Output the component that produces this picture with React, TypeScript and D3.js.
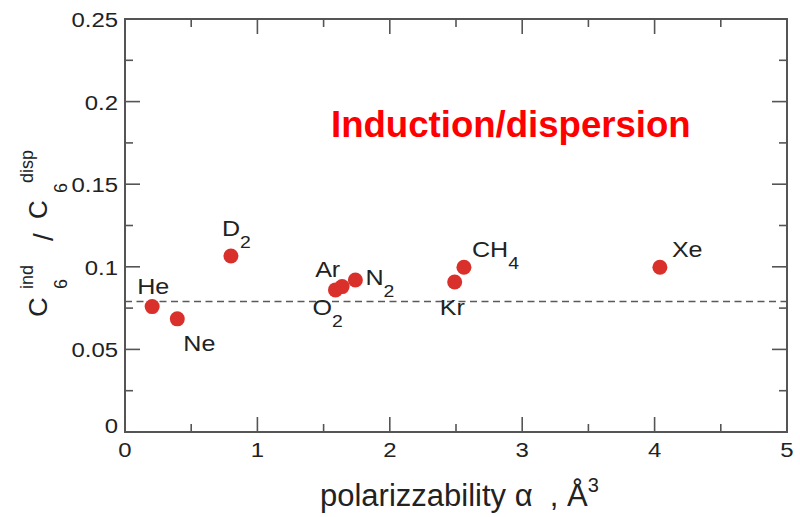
import React from "react";
import * as d3 from "d3";

// Ratio of induction to dispersion C6 coefficients vs. polarizability
const species = ["He", "Ne", "D", "O", "Ar", "N", "Kr", "CH", "Xe"];
const speciesSub = ["", "", "2", "2", "", "2", "", "4", ""];
const polarizability = [0.205, 0.395, 0.8, 1.59, 1.64, 1.74, 2.49, 2.56, 4.04];
const c6Ratio = [0.0759, 0.0685, 0.1065, 0.086, 0.088, 0.092, 0.0908, 0.0997, 0.0997];
const referenceRatio = 0.079;

const xTicks = [0, 1, 2, 3, 4, 5];
const yTicks = [0, 0.05, 0.1, 0.15, 0.2, 0.25];
const xMinor = [0.5, 1.5, 2.5, 3.5, 4.5];
const yMinor = [0.025, 0.075, 0.125, 0.175, 0.225];

// label offsets from each marker (px)
const labelOffset: [number, number][] = [
  [-15, -13], [6, 32], [-9, -20], [-23, 25], [-27, -10], [10, 5], [-15, 33], [8, -10], [12, -10],
];

const W = 800, H = 517;
const left = 125, right = 787, top = 19, bottom = 432;
const SX = 1.14; // horizontal text stretch
const FONT = "'Liberation Sans', Arial, Helvetica, sans-serif";
const INK = "#222";
const AXIS = "#555";
const RED = "#d9302b";

function T(props: {x: number; y: number; size: number; anchor?: string; sx?: number; children: React.ReactNode; fill?: string}) {
  const s = props.sx ?? SX;
  return (
    <text
      transform={`translate(${props.x},${props.y}) scale(${s},1)`}
      fontSize={props.size}
      textAnchor={props.anchor || "start"}
      fill={props.fill || INK}
      fontFamily={FONT}
    >
      {props.children}
    </text>
  );
}

export default function App() {
  const x = d3.scaleLinear().domain([0, 5]).range([left, right]);
  const y = d3.scaleLinear().domain([0, 0.25]).range([bottom, top]);
  const major = 15, minor = 8;

  return (
    <svg width={W} height={H} style={{ position: "absolute", left: 0, top: 0, background: "#fff" }}>
      <rect x={0} y={0} width={W} height={H} fill="#fff" />
      {/* reference line */}
      <line x1={left} x2={right} y1={y(referenceRatio)} y2={y(referenceRatio)} stroke="#5a5a5a" strokeWidth={1.6} strokeDasharray="7,4.5" />

      {/* frame */}
      <rect x={left} y={top} width={right - left} height={bottom - top} fill="none" stroke={AXIS} strokeWidth={2} />

      {/* x ticks bottom & top */}
      {xTicks.map((t) => (
        <g key={"xt" + t}>
          <line x1={x(t)} x2={x(t)} y1={bottom} y2={bottom - major} stroke={AXIS} strokeWidth={1.6} />
          <line x1={x(t)} x2={x(t)} y1={top} y2={top + major} stroke={AXIS} strokeWidth={1.6} />
          <T x={x(t)} y={457} size={21} anchor="middle">{d3.format("")(t)}</T>
        </g>
      ))}
      {xMinor.map((t) => (
        <g key={"xm" + t}>
          <line x1={x(t)} x2={x(t)} y1={bottom} y2={bottom - minor} stroke={AXIS} strokeWidth={1.6} />
          <line x1={x(t)} x2={x(t)} y1={top} y2={top + minor} stroke={AXIS} strokeWidth={1.6} />
        </g>
      ))}

      {/* y ticks left & right */}
      {yTicks.map((t) => (
        <g key={"yt" + t}>
          <line x1={left} x2={left + major} y1={y(t)} y2={y(t)} stroke={AXIS} strokeWidth={1.6} />
          <line x1={right} x2={right - major} y1={y(t)} y2={y(t)} stroke={AXIS} strokeWidth={1.6} />
          <T x={118} y={y(t) + (t === 0 ? 1 : 8)} size={21} anchor="end">{t === 0 ? "0" : String(t)}</T>
        </g>
      ))}
      {yMinor.map((t) => (
        <g key={"ym" + t}>
          <line x1={left} x2={left + minor} y1={y(t)} y2={y(t)} stroke={AXIS} strokeWidth={1.6} />
          <line x1={right} x2={right - minor} y1={y(t)} y2={y(t)} stroke={AXIS} strokeWidth={1.6} />
        </g>
      ))}

      {/* markers */}
      {polarizability.map((a, i) => (
        <circle key={"p" + i} cx={x(a)} cy={y(c6Ratio[i])} r={7.5} fill={RED} />
      ))}

      {/* species labels */}
      {species.map((s, i) => (
        <T key={"l" + i} x={x(polarizability[i]) + labelOffset[i][0]} y={y(c6Ratio[i]) + labelOffset[i][1]} size={22}>
          <tspan>{s}</tspan>
          {speciesSub[i] ? <tspan fontSize={17} dy={12}>{speciesSub[i]}</tspan> : null}
        </T>
      ))}

      {/* title */}
      <text x={331} y={137} fontSize={36.6} fontWeight="bold" fill="#ff0000" fontFamily={FONT}>
        Induction/dispersion
      </text>

      {/* x axis label */}
      <T x={320} y={506} size={31} sx={1}>
        <tspan>{"polarizzability α\u00a0\u00a0, Å"}</tspan>
        <tspan fontSize={20} dy={-14}>3</tspan>
      </T>

      {/* y axis label */}
      <g transform="translate(47,317) rotate(-90)" fontFamily={FONT} fill={INK}>
        <text x={0} y={0} fontSize={26} transform="scale(1.05,1)">C</text>
        <text x={28} y={-14} fontSize={18}>ind</text>
        <text x={28} y={20} fontSize={18}>6</text>
        <text x={76} y={6} fontSize={28}>/</text>
        <text x={98} y={0} fontSize={26}>C</text>
        <text x={124} y={20} fontSize={18}>6</text>
        <text x={134} y={-14} fontSize={18}>disp</text>
      </g>
    </svg>
  );
}
